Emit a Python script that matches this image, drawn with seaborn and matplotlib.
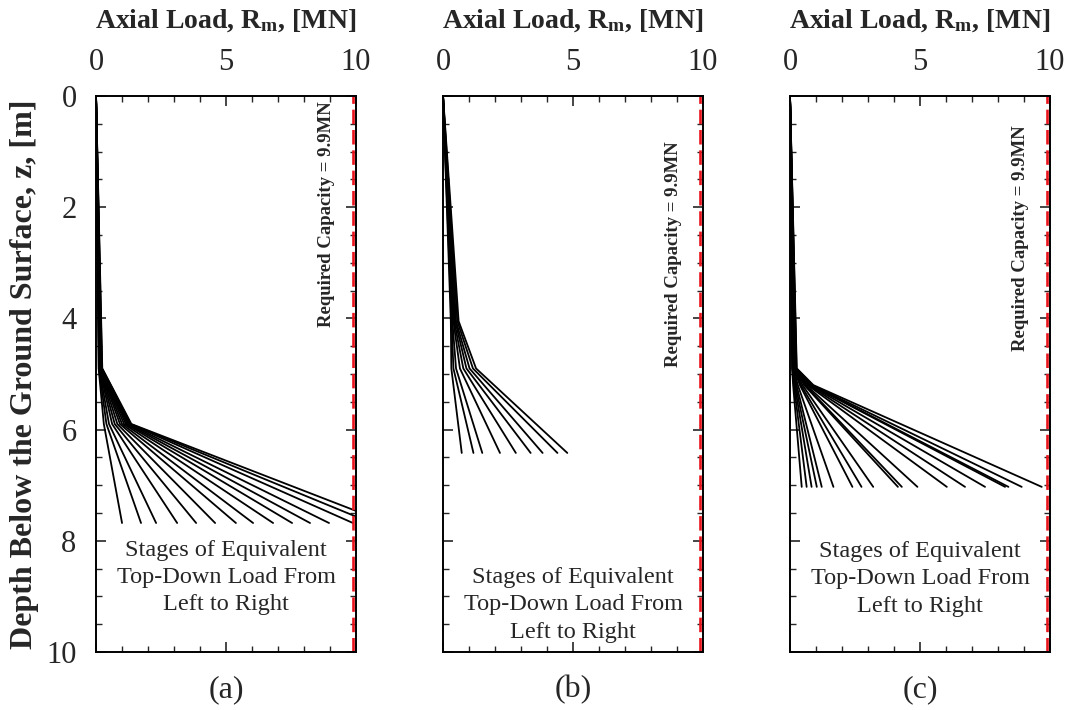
import numpy as np
import pandas as pd
import matplotlib
matplotlib.use("Agg")
import matplotlib.pyplot as plt
from matplotlib.ticker import MultipleLocator
import seaborn as sns

# ---------------- data ----------------
required_capacity = 9.9  # MN

# Panel (a): depth breakpoints [m] and load at each breakpoint [MN] per stage
depths_a = [0.0, 4.9, 5.9, 7.68]
top_a = [0.0, 0.0, 0.0, 0.0, 0.0, 0.0, 0.0, 0.0, 0.0, 0.0, 0.0, 0.0, 0.0, 0.0, 0.0]
k1_a = [0.10, 0.11, 0.12, 0.13, 0.14, 0.15, 0.16, 0.17, 0.18, 0.19, 0.20, 0.21, 0.22, 0.23, 0.24]
k2_a = [0.30, 0.40, 0.50, 0.62, 0.72, 0.82, 0.92, 1.00, 1.08, 1.15, 1.20, 1.25, 1.30, 1.33, 1.36]
end_a = [1.00, 1.73, 2.31, 3.12, 3.85, 4.58, 5.38, 6.04, 6.81, 7.54, 8.23, 8.96, 9.88, 10.6, 11.2]

# Panel (b)
depths_b = [0.0, 4.05, 4.9, 6.42]
top_b = [0.0, 0.0, 0.0, 0.0, 0.0, 0.0, 0.0, 0.0, 0.0]
k1_b = [0.30, 0.33, 0.36, 0.40, 0.43, 0.47, 0.50, 0.55, 0.60]
k2_b = [0.32, 0.40, 0.50, 0.65, 0.78, 0.90, 1.02, 1.15, 1.27]
end_b = [0.72, 1.17, 1.51, 2.19, 2.80, 3.37, 3.83, 4.40, 4.78]

# Panel (c)
depths_c = [0.0, 4.9, 5.2, 7.03]
top_c = [0.0, 0.0, 0.0, 0.0, 0.0, 0.0, 0.0, 0.0, 0.0, 0.0,
         0.0, 0.0, 0.0, 0.0, 0.0, 0.0, 0.0, 0.0, 0.0]
k1_c = [0.08, 0.09, 0.10, 0.11, 0.12, 0.13, 0.14, 0.15, 0.16, 0.17,
        0.18, 0.19, 0.20, 0.21, 0.22, 0.23, 0.24, 0.25, 0.26]
k2_c = [0.12, 0.15, 0.18, 0.21, 0.25, 0.30, 0.38, 0.42, 0.48, 0.55,
        0.58, 0.62, 0.68, 0.72, 0.76, 0.80, 0.82, 0.85, 0.90]
end_c = [0.45, 0.64, 0.83, 1.03, 1.22, 1.67, 2.40, 2.75, 3.20, 4.15,
         4.30, 4.90, 6.03, 6.73, 7.50, 8.27, 8.40, 8.91, 9.68]

panel_labels = ["(a)", "(b)", "(c)"]
x_label = r"Axial Load, R$_{\mathbf{m}}$, [MN]"
y_label = "Depth Below the Ground Surface, z, [m]"
capacity_text = "Required Capacity = 9.9MN"
stages_text = "Stages of Equivalent\nTop-Down Load From\nLeft to Right"


def build_frame(depths, *cols):
    rows = []
    n = len(cols[0])
    for i in range(n):
        for d, col in zip(depths, cols):
            rows.append({"stage": i, "depth": d, "load": col[i]})
    return pd.DataFrame(rows)


frames = [
    build_frame(depths_a, top_a, k1_a, k2_a, end_a),
    build_frame(depths_b, top_b, k1_b, k2_b, end_b),
    build_frame(depths_c, top_c, k1_c, k2_c, end_c),
]

# ---------------- style ----------------
sns.set_style("ticks")
plt.rcParams["font.family"] = ["Liberation Serif", "DejaVu Serif"]
plt.rcParams["mathtext.fontset"] = "custom"
plt.rcParams["mathtext.rm"] = "Liberation Serif"
plt.rcParams["mathtext.bf"] = "Liberation Serif:bold"
plt.rcParams["mathtext.it"] = "Liberation Serif:italic"

fig = plt.figure(figsize=(10.67, 7.10), dpi=100)
lefts = [0.090, 0.4152, 0.7404]
width = 0.2437
bottom = 0.0817
height = 0.8648 - 0.0817

cap_text_pos = [(8.85, 2.12), (8.85, 2.85), (8.85, 2.55)]
stage_text_y = [8.66, 9.15, 8.68]

for i, (df, lab) in enumerate(zip(frames, panel_labels)):
    ax = fig.add_axes([lefts[i], bottom, width, height])
    sns.lineplot(data=df, x="load", y="depth", units="stage", estimator=None,
                 sort=False, color="black", linewidth=1.3, ax=ax, legend=False)
    ax.axvline(required_capacity, color="#e8141c", linestyle=(0, (5.5, 2.2)), linewidth=1.9)
    ax.set_xlim(0, 10)
    ax.set_ylim(10, 0)
    ax.xaxis.set_major_locator(MultipleLocator(5))
    ax.xaxis.set_minor_locator(MultipleLocator(1))
    ax.yaxis.set_major_locator(MultipleLocator(2))
    ax.yaxis.set_minor_locator(MultipleLocator(0.5))
    ax.tick_params(which="both", direction="in", top=True, right=True,
                   bottom=True, left=True, labeltop=True, labelbottom=False,
                   labelsize=22, pad=14)
    ax.tick_params(which="major", length=7, width=1.2)
    ax.tick_params(which="minor", length=4, width=1.0)
    for sp in ax.spines.values():
        sp.set_linewidth(1.4)
        sp.set_color("black")
    ax.xaxis.set_label_position("top")
    ax.set_xlabel(x_label, fontsize=20, fontweight="bold", labelpad=14)
    if i == 0:
        ax.set_ylabel(y_label, fontsize=23, fontweight="bold", labelpad=5)
    else:
        ax.set_ylabel("")
        ax.tick_params(labelleft=False)
    cx, cy = cap_text_pos[i]
    ax.text(cx, cy, capacity_text, rotation=90, ha="center", va="center",
            fontsize=13.5, fontweight="bold")
    ax.text(5.0, stage_text_y[i], stages_text, ha="center", va="center",
            fontsize=17.5, linespacing=1.4)
    ax.text(0.5, -0.068, lab, transform=ax.transAxes, ha="center", va="center",
            fontsize=23)

fig.savefig("out.png", dpi=100)
